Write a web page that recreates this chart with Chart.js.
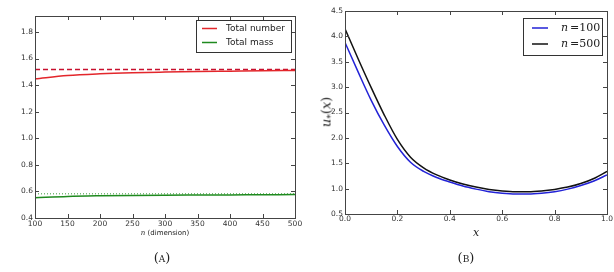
<!DOCTYPE html>
<html>
<head>
<meta charset="utf-8">
<script src="https://cdn.jsdelivr.net/npm/chart.js@4/dist/chart.umd.min.js"></script>
<style>
  html, body { margin: 0; padding: 0; background: #fff; }
  #wrap { position: relative; width: 614px; height: 272px; overflow: hidden; }
  canvas { position: absolute; top: 0; }
  .lbl { position: absolute; white-space: nowrap; color: #222; }
  .cap { font-family: 'DejaVu Serif', serif; font-size: 13px; font-variant: small-caps; transform: translate(-50%, -50%); }
</style>
</head>
<body>
<div id="wrap">
  <canvas id="chartA" width="310" height="272" style="left:0"></canvas>
  <canvas id="chartB" width="304" height="272" style="left:310px"></canvas>
  <div class="lbl" style="left:165px;top:233px;transform:translate(-50%,-50%);font:7px 'DejaVu Sans',sans-serif;"><i style="font-family:'DejaVu Serif',serif">n</i> (dimension)</div>
  <div class="lbl" style="left:476px;top:232px;transform:translate(-50%,-50%);font:italic 11px 'DejaVu Serif',serif;">x</div>
  <div class="lbl" style="left:327px;top:112px;transform:translate(-50%,-50%) rotate(-90deg);font:13px 'DejaVu Serif',serif;"><i>u</i><sub style="font-size:9px;vertical-align:-3px">*</sub>(<i>x</i>)</div>
  <div class="lbl cap" style="left:162px;top:257px;">(a)</div>
  <div class="lbl cap" style="left:466px;top:257px;">(b)</div>
</div>
<script>
(function () {
  // panel A: totals against dimension n
  const nDims = [100, 150, 200, 250, 300, 350, 400, 450, 500];
  const totalNumber = [1.447, 1.472, 1.485, 1.493, 1.498, 1.502, 1.505, 1.508, 1.510];
  const totalMass = [0.552, 0.562, 0.567, 0.570, 0.572, 0.573, 0.574, 0.575, 0.576];
  const limitX = [100, 500];
  const numberLimit = [1.518, 1.518];
  const massLimit = [0.582, 0.582];
  const yTicksA = [0.4, 0.6, 0.8, 1.0, 1.2, 1.4, 1.6, 1.8];

  // panel B: profiles u_*(x)
  const xGrid = [0, 0.05, 0.1, 0.15, 0.2, 0.25, 0.3, 0.35, 0.4, 0.45, 0.5,
                 0.55, 0.6, 0.65, 0.7, 0.75, 0.8, 0.85, 0.9, 0.95, 1.0];
  const u100 = [3.88, 3.30, 2.74, 2.25, 1.83, 1.52, 1.34, 1.22, 1.13, 1.05, 0.99,
                0.94, 0.91, 0.895, 0.895, 0.91, 0.94, 0.99, 1.06, 1.15, 1.27];
  const u500 = [4.15, 3.56, 2.99, 2.45, 1.97, 1.62, 1.41, 1.27, 1.17, 1.09, 1.03,
                0.985, 0.955, 0.94, 0.94, 0.955, 0.985, 1.03, 1.10, 1.20, 1.34];
  const yTicksB = [0.5, 1.0, 1.5, 2.0, 2.5, 3.0, 3.5, 4.0, 4.5];
  const xTicksB = [0, 0.2, 0.4, 0.6, 0.8, 1.0];

  const tickFont = { family: 'DejaVu Sans', size: 7.5 };
  const tickColor = '#333';
  const frameColor = '#444';

  function pts(xs, ys) {
    return xs.map(function (x, i) { return { x: x, y: ys[i] }; });
  }

  const framePlugin = {
    id: 'frame',
    afterDatasetsDraw: function (chart) {
      const ctx = chart.ctx, a = chart.chartArea, x = chart.scales.x, y = chart.scales.y;
      const len = 4;
      ctx.save();
      ctx.strokeStyle = frameColor;
      ctx.lineWidth = 1;
      ctx.beginPath();
      x.ticks.forEach(function (t) {
        const px = Math.round(x.getPixelForValue(t.value)) + 0.5;
        ctx.moveTo(px, a.bottom); ctx.lineTo(px, a.bottom - len);
        ctx.moveTo(px, a.top); ctx.lineTo(px, a.top + len);
      });
      y.ticks.forEach(function (t) {
        const py = Math.round(y.getPixelForValue(t.value)) + 0.5;
        ctx.moveTo(a.left, py); ctx.lineTo(a.left + len, py);
        ctx.moveTo(a.right, py); ctx.lineTo(a.right - len, py);
      });
      ctx.stroke();
      ctx.strokeRect(Math.round(a.left) + 0.5, Math.round(a.top) + 0.5,
                     Math.round(a.right - a.left), Math.round(a.bottom - a.top));
      ctx.restore();
    },
  };

  const boxLegend = {
    id: 'boxLegend',
    afterDraw: function (chart, args, o) {
      if (!o || !o.box) return;
      const ctx = chart.ctx, b = o.box;
      ctx.save();
      ctx.fillStyle = '#fff';
      ctx.fillRect(b.x, b.y, b.w, b.h);
      ctx.strokeStyle = '#333';
      ctx.lineWidth = 1;
      ctx.strokeRect(b.x + 0.5, b.y + 0.5, b.w, b.h);
      o.items.forEach(function (idx, i) {
        const ds = chart.data.datasets[idx];
        const yy = b.y + o.first + i * o.step;
        ctx.strokeStyle = ds.borderColor;
        ctx.lineWidth = 1.5;
        ctx.beginPath();
        ctx.moveTo(b.x + o.lineFrom, yy);
        ctx.lineTo(b.x + o.lineTo, yy);
        ctx.stroke();
        ctx.fillStyle = '#222';
        ctx.textBaseline = 'middle';
        let tx = b.x + o.textAt;
        if (o.math) {
          const parts = ds.label.split('=');
          ctx.font = 'italic ' + o.size + 'px "DejaVu Serif"';
          ctx.fillText(parts[0], tx, yy);
          tx += ctx.measureText(parts[0]).width + 2;
          ctx.font = o.size + 'px "DejaVu Serif"';
          ctx.fillText('=' + parts[1], tx, yy);
        } else {
          ctx.font = o.size + 'px "DejaVu Sans"';
          ctx.fillText(ds.label, tx, yy);
        }
      });
      ctx.restore();
    },
  };

  function axes(xMin, xMax, xTicks, xDigits, xPad, xH, yMin, yMax, yTicks, yW) {
    return {
      x: {
        type: 'linear', min: xMin, max: xMax,
        grid: { display: false, drawTicks: false },
        border: { display: false },
        afterBuildTicks: function (s) { s.ticks = xTicks.map(function (v) { return { value: v }; }); },
        afterFit: function (s) { s.height = xH; },
        ticks: { color: tickColor, font: tickFont, padding: xPad, maxRotation: 0, autoSkip: false,
                 callback: function (v) { return Number(v).toFixed(xDigits); } },
      },
      y: {
        type: 'linear', min: yMin, max: yMax,
        grid: { display: false, drawTicks: false },
        border: { display: false },
        afterBuildTicks: function (s) { s.ticks = yTicks.map(function (v) { return { value: v }; }); },
        afterFit: function (s) { s.width = yW; },
        ticks: { color: tickColor, font: tickFont, padding: 2, autoSkip: false,
                 callback: function (v) { return Number(v).toFixed(1); } },
      },
    };
  }

  Chart.defaults.font.family = 'DejaVu Sans';

  new Chart(document.getElementById('chartA'), {
    type: 'line',
    data: {
      datasets: [
        { label: 'Total number', data: pts(nDims, totalNumber), borderColor: '#e3262b', borderWidth: 1.5, pointRadius: 0, cubicInterpolationMode: 'monotone' },
        { label: 'Total mass', data: pts(nDims, totalMass), borderColor: '#1f8a1f', borderWidth: 1.5, pointRadius: 0, cubicInterpolationMode: 'monotone' },
        { label: 'number limit', data: pts(limitX, numberLimit), borderColor: '#c8102e', borderWidth: 1.5, borderDash: [5, 3], pointRadius: 0 },
        { label: 'mass limit', data: pts(limitX, massLimit), borderColor: '#3a9a3a', borderWidth: 1, borderDash: [1, 2], pointRadius: 0 },
      ],
    },
    options: {
      responsive: false, animation: false, devicePixelRatio: 1,
      layout: { padding: { left: 0, top: 16, right: 15, bottom: 0 } },
      plugins: {
        legend: { display: false }, tooltip: { enabled: false },
        boxLegend: { box: { x: 196, y: 20, w: 95, h: 32 }, items: [0, 1], first: 8.5, step: 14,
                     lineFrom: 6, lineTo: 21, textAt: 30, size: 9, math: false },
      },
      scales: axes(100, 500, nDims, 0, 2, 54, 0.4, 1.92, yTicksA, 35),
    },
    plugins: [framePlugin, boxLegend],
  });

  new Chart(document.getElementById('chartB'), {
    type: 'line',
    data: {
      datasets: [
        { label: 'n=100', data: pts(xGrid, u100), borderColor: '#2222d6', borderWidth: 1.5, pointRadius: 0, cubicInterpolationMode: 'monotone' },
        { label: 'n=500', data: pts(xGrid, u500), borderColor: '#111', borderWidth: 1.5, pointRadius: 0, cubicInterpolationMode: 'monotone' },
      ],
    },
    options: {
      responsive: false, animation: false, devicePixelRatio: 1,
      layout: { padding: { left: 0, top: 11, right: 7, bottom: 0 } },
      plugins: {
        legend: { display: false }, tooltip: { enabled: false },
        boxLegend: { box: { x: 213, y: 18, w: 79, h: 37 }, items: [0, 1], first: 10, step: 16,
                     lineFrom: 9, lineTo: 25, textAt: 38, size: 11, math: true },
      },
      scales: axes(0, 1, xTicksB, 1, 1, 58, 0.5, 4.5, yTicksB, 35),
    },
    plugins: [framePlugin, boxLegend],
  });
})();
</script>
</body>
</html>
